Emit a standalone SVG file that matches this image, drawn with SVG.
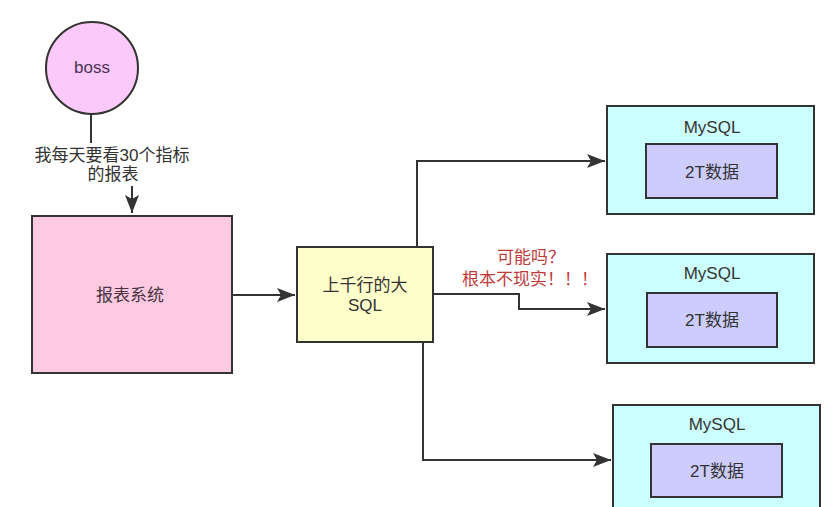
<svg xmlns="http://www.w3.org/2000/svg" width="839" height="507" viewBox="0 0 839 507">
<defs>
<style>
.t{font-family:"Liberation Sans","Noto Sans CJK SC",sans-serif;font-size:17px;fill:#333;text-anchor:middle;dominant-baseline:central}
.node{stroke:#333;stroke-width:2}
.edge{fill:none;stroke:#333;stroke-width:2}
.red{fill:#c23b3b}
</style>
<marker id="arr" markerWidth="20" markerHeight="16" viewBox="0 0 20 16" refX="18" refY="8" orient="auto" markerUnits="userSpaceOnUse">
<path d="M0,1 L18,8 L0,15 L4,8 Z" fill="#333"/>
</marker>
</defs>
<rect width="839" height="507" fill="#fff"/>
<g id="connectors">
<path class="edge" d="M91,114 V143"/>
<path class="edge" d="M132,186 V213" marker-end="url(#arr)"/>
<path class="edge" d="M232,295 H295" marker-end="url(#arr)"/>
<path class="edge" d="M417,247 V161 H605" marker-end="url(#arr)"/>
<path class="edge" d="M433,294 H519 V309 H605" marker-end="url(#arr)"/>
<path class="edge" d="M423,342 V460 H611" marker-end="url(#arr)"/>
</g>
<g id="label-boss">
<text class="t" x="112" y="155">我每天要看30个指标</text>
<text class="t" x="113" y="174">的报表</text>
</g>
<g id="label-red">
<text class="t red" x="531" y="257">可能吗？</text>
<text class="t red" x="530" y="279">根本不现实！！！</text>
</g>
<g id="boss">
<circle class="node" cx="92" cy="68" r="46" fill="#fcc9fb"/>
<text class="t" x="92" y="67" style="fill:#4a3358">boss</text>
</g>
<g id="report">
<rect class="node" x="32" y="216" width="200" height="157" fill="#fdcae2"/>
<text class="t" x="130" y="295" style="fill:#4a3340">报表系统</text>
</g>
<g id="sql">
<rect class="node" x="297" y="247" width="136" height="95" fill="#ffffcc"/>
<text class="t" x="365" y="285">上千行的大</text>
<text class="t" x="365" y="305">SQL</text>
</g>
<g id="mysql1">
<rect class="node" x="607" y="106" width="207" height="108" fill="#ccffff"/>
<text class="t" x="712" y="127">MySQL</text>
<rect class="node" x="646" y="144" width="131" height="54" fill="#ccccff"/>
<text class="t" x="712" y="172">2T数据</text>
</g>
<g id="mysql2">
<rect class="node" x="607" y="254" width="207" height="109" fill="#ccffff"/>
<text class="t" x="712" y="273">MySQL</text>
<rect class="node" x="647" y="293" width="130" height="54" fill="#ccccff"/>
<text class="t" x="712" y="320">2T数据</text>
</g>
<g id="mysql3">
<rect class="node" x="613" y="405" width="207" height="110" fill="#ccffff"/>
<text class="t" x="717" y="424">MySQL</text>
<rect class="node" x="651" y="444" width="131" height="53" fill="#ccccff"/>
<text class="t" x="717" y="471">2T数据</text>
</g>
</svg>
